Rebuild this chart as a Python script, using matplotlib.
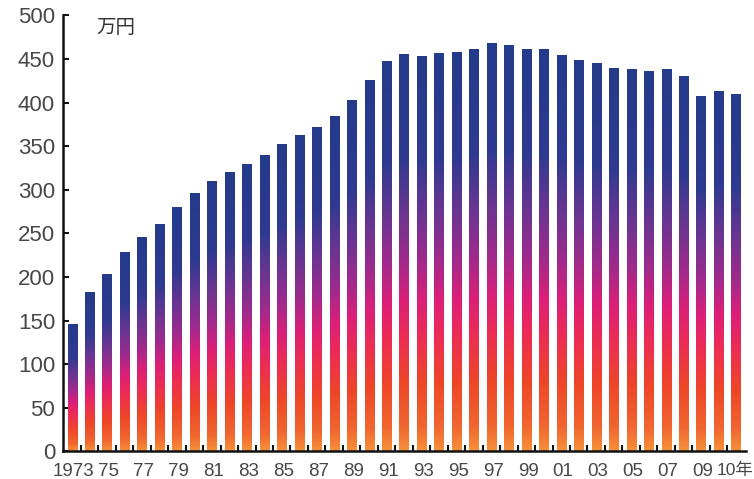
import numpy as np
import matplotlib.pyplot as plt
from matplotlib.colors import LinearSegmentedColormap

# Average annual salary, 10,000 yen
years = list(range(1973, 2012))
salary = [145, 182, 202, 228, 245, 260, 279, 295, 309, 319,
          329, 339, 352, 362, 371, 384, 402, 425, 447, 455,
          452, 456, 457, 461, 467, 465, 461, 461, 454, 448,
          444, 439, 437, 435, 437, 430, 406, 412, 409]

tick_years = [1973, 1975, 1977, 1979, 1981, 1983, 1985, 1987, 1989, 1991,
              1993, 1995, 1997, 1999, 2001, 2003, 2005, 2007, 2009]
tick_text = ['1973', '75', '77', '79', '81', '83', '85', '87', '89', '91',
             '93', '95', '97', '99', '01', '03', '05', '07', '09']
last_label = '10年'
unit_label = '万円'

# orange -> red -> magenta -> purple -> blue, bottom to top of each bar
grad = LinearSegmentedColormap.from_list('bar_grad', [
    (0.00, '#f6903a'),
    (0.06, '#f16630'),
    (0.17, '#ee4628'),
    (0.29, '#ec2c55'),
    (0.38, '#dc1f78'),
    (0.48, '#a02a8c'),
    (0.60, '#6a3592'),
    (0.74, '#2e3a90'),
    (1.00, '#243a8a'),
])

label_font = ['Liberation Sans', 'DejaVu Sans']
label_color = '#474747'

fig = plt.figure(figsize=(7.54, 4.79), dpi=100)
ax = fig.add_axes([0.084, 0.0578, 0.906, 0.9102])

x = np.arange(len(years))
width = 0.52
ramp = np.linspace(0, 1, 256).reshape(-1, 1)
for xi, h in zip(x, salary):
    ax.imshow(ramp, cmap=grad, origin='lower', aspect='auto',
              extent=[xi - width / 2, xi + width / 2, 0, h], zorder=2)

ax.set_xlim(-0.5, 38.6)
ax.set_ylim(0, 500)

for s in ['top', 'right']:
    ax.spines[s].set_visible(False)
for s in ['left', 'bottom']:
    ax.spines[s].set_linewidth(1.8)
    ax.spines[s].set_color('#111111')

ax.set_yticks(np.arange(0, 501, 50))
ax.tick_params(axis='y', direction='in', length=4, width=1.5, colors='#111111',
               labelcolor=label_color, pad=6)
for lab in ax.get_yticklabels():
    lab.set_family(label_font)
    lab.set_fontsize(16)

# ticks sit between the bars, labels under selected bars
ax.set_xticks(x[:-1] + 0.5)
ax.set_xticklabels([])
ax.tick_params(axis='x', direction='in', length=4, width=1.5, colors='#111111')

for yr, txt in zip(tick_years, tick_text):
    ax.text(years.index(yr) + 0.1, -13, txt, ha='center', va='top', fontsize=13.5,
            color=label_color, family=label_font)
ax.text(years.index(2010) - 0.1, -13, last_label, ha='left', va='top', fontsize=12.5,
        color=label_color, family=['Liberation Sans', 'Noto Sans CJK JP'])

ax.text(1.4, 486, unit_label, ha='left', va='center', fontsize=14,
        color='#333333', family=['Noto Sans CJK JP'])

plt.savefig('out.png', dpi=100)
